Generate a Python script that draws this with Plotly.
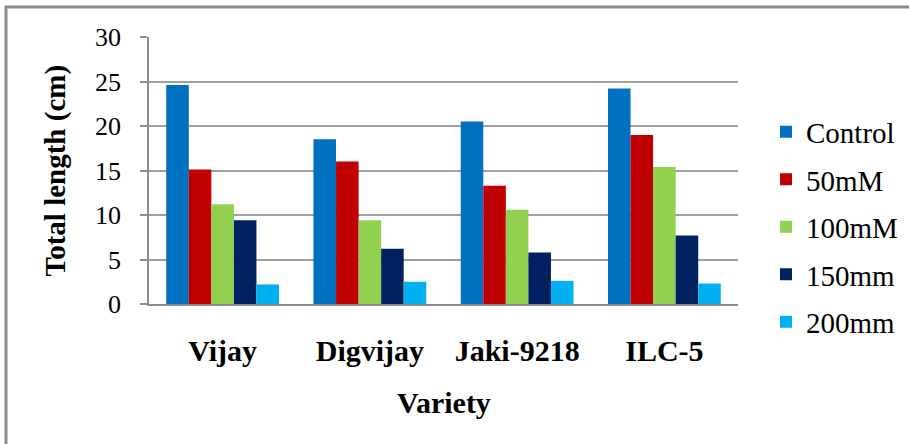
import plotly.graph_objects as go

varieties = ["Vijay", "Digvijay", "Jaki-9218", "ILC-5"]
control = [24.6, 18.5, 20.5, 24.2]
mm50 = [15.1, 16.0, 13.3, 19.0]
mm100 = [11.2, 9.4, 10.6, 15.4]
mm150 = [9.4, 6.2, 5.8, 7.7]
mm200 = [2.2, 2.5, 2.6, 2.3]

series = [
    ("Control", control, "#0070C0"),
    ("50mM", mm50, "#C00000"),
    ("100mM", mm100, "#92D050"),
    ("150mm", mm150, "#002060"),
    ("200mm", mm200, "#00B0F0"),
]

W, H = 909, 444
L, R, T, B = 149, 738, 37, 304  # plot area in pixels

def px_x(p):
    return (p - L) / (R - L)

def px_y(p):
    return (B - p) / (B - T)

fig = go.Figure()
for i, (name, vals, col) in enumerate(series):
    fig.add_trace(go.Bar(x=varieties, y=vals, name=name, marker_color=col,
                         marker_line_width=0, legendgroup=f"g{i}"))

serif = "Liberation Serif"
fig.update_layout(
    width=W, height=H,
    margin=dict(l=L, r=W - R, t=T, b=H - B, pad=0, autoexpand=False),
    paper_bgcolor="white", plot_bgcolor="white",
    barmode="group", bargap=0.234, bargroupgap=0,
    font=dict(family=serif, color="black"),
    showlegend=True,
    legend=dict(x=px_x(766), xanchor="left", y=px_y(106.5), yanchor="top",
                font=dict(family=serif, size=29, color="black"),
                traceorder="grouped", tracegroupgap=6.8,
                bgcolor="rgba(0,0,0,0)", borderwidth=0),
    xaxis=dict(showline=True, linecolor="#8C8C8C", linewidth=1.5,
               ticks="", showgrid=False,
               tickfont=dict(family=serif, size=30, color="black", weight="bold"),
               ticklabelstandoff=19),
    yaxis=dict(range=[0, 30], tickvals=[0, 5, 10, 15, 20, 25, 30],
               showline=True, linecolor="#8C8C8C", linewidth=1.5,
               ticks="outside", ticklen=7, tickcolor="#8C8C8C", tickwidth=1.5,
               showgrid=True, gridcolor="#A0A0A0", gridwidth=1.5,
               tickfont=dict(family=serif, size=26, color="black"),
               ticklabelstandoff=14, zeroline=False),
    annotations=[
        dict(text="<b>Variety</b>", xref="paper", yref="paper",
             x=px_x(443.5), y=px_y(402), showarrow=False,
             xanchor="center", yanchor="middle",
             font=dict(family=serif, size=30, color="black")),
        dict(text="<b>Total length (cm)</b>", xref="paper", yref="paper",
             x=px_x(55), y=px_y(170.5), showarrow=False, textangle=-90,
             xanchor="center", yanchor="middle",
             font=dict(family=serif, size=29, color="black")),
    ],
    shapes=[
        dict(type="rect", xref="paper", yref="paper",
             x0=px_x(6), x1=px_x(915), y0=px_y(470), y1=px_y(7),
             line=dict(color="#8C8C8C", width=3), fillcolor="rgba(0,0,0,0)",
             layer="below"),
    ],
)

fig.write_html("out.html")
